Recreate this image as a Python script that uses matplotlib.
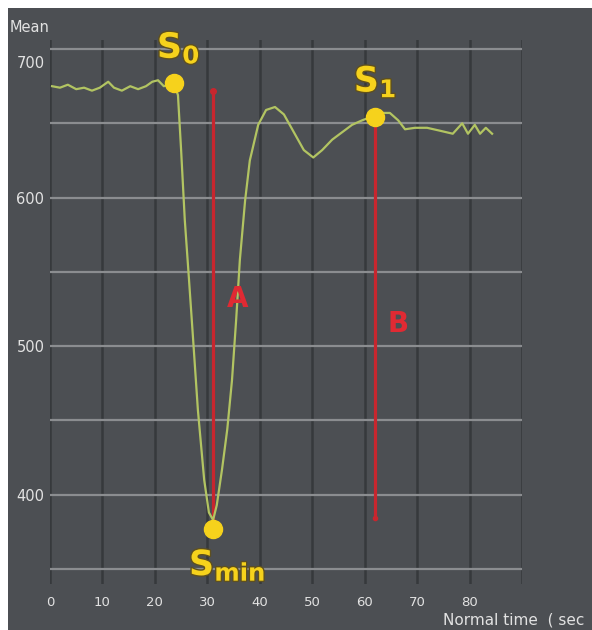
import matplotlib.pyplot as plt
import matplotlib.patheffects as pe
from matplotlib.patches import Rectangle
from matplotlib.transforms import ScaledTranslation

# signal curve
time = [0.4, 1.9, 3.4, 5.0, 6.5, 8.0, 9.5, 11.1, 12.2, 13.7, 15.3, 16.8, 18.3, 19.5,
        20.6, 21.7, 22.9, 23.6, 24.4, 25.0, 25.7, 26.5, 27.3, 28.2, 29.4, 30.3, 31.1,
        31.8, 32.8, 33.8, 34.7, 35.5, 36.2, 37.2, 38.1, 39.7, 41.2, 42.9, 44.6, 46.5,
        48.4, 50.2, 51.9, 53.8, 55.7, 57.6, 59.5, 61.0, 62.0, 63.3, 64.8, 66.4, 67.7,
        69.6, 71.9, 74.4, 76.8, 78.6, 79.7, 81.0, 82.0, 83.1, 84.3]
mean = [675, 674, 676, 673, 674, 672, 674, 678, 674, 672, 675, 673, 675, 678,
        679, 675, 676, 677, 669, 632, 585, 545, 504, 457, 410, 388, 383,
        393, 417, 444, 477, 518, 558, 598, 625, 649, 659, 661, 656, 644,
        632, 627, 632, 639, 644, 649, 652, 654, 654, 657, 657, 652, 646,
        647, 647, 645, 643, 650, 643, 649, 643, 647, 643]

# key points
pt_t = [23.6, 31.1, 62.0]
pt_v = [677, 377, 654]
pt_names = [r'$\mathbf{S_0}$', r'$\mathbf{S_{min}}$', r'$\mathbf{S_1}$']

# arrows A and B (time, top, bottom)
arrow_t = [31.1, 62.0]
arrow_top = [672, 654]
arrow_bot = [377, 384]

bg = '#4c4f53'
yellow = '#f6d21c'
red = '#c8262e'

fig = plt.figure(figsize=(5.92, 6.30), dpi=100, facecolor='white')
fig.patches.append(Rectangle((8 / 592, 0), 1, 1 - 8 / 630, transform=fig.transFigure,
                             facecolor=bg, edgecolor='none', zorder=-10))

ax = fig.add_axes([50 / 592, 46 / 630, 472 / 592, 544 / 630])
ax.set_facecolor(bg)
ax.set_xlim(0, 90)
ax.set_ylim(339.9, 706.1)
for s in ax.spines.values():
    s.set_visible(False)

# grid: dark verticals, light horizontals
for t in range(0, 91, 10):
    ax.axvline(t, color='#36393c', lw=1.8, zorder=1)
for v in range(350, 701, 50):
    ax.axhline(v, color='#8b8d90', lw=1.6, zorder=2)

ax.set_xticks(range(0, 81, 10))
ax.set_yticks([400, 500, 600, 700])
ax.tick_params(length=0, colors='#e2e2e2', labelsize=10.5)
ax.tick_params(axis='x', pad=9, labelsize=9.5)
ax.tick_params(axis='y', pad=4)
lab700 = ax.get_yticklabels()[-1]
lab700.set_transform(lab700.get_transform() + ScaledTranslation(0, -0.13, fig.dpi_scale_trans))

# curve
ax.plot(time, mean, color='#b2c462', lw=1.6, zorder=4)

# red lines A, B
for t, top, bot in zip(arrow_t, arrow_top, arrow_bot):
    ax.plot([t, t], [top, bot], color=red, lw=2.3, zorder=3)
ax.plot(arrow_t[0], arrow_top[0], 'o', color=red, ms=4, zorder=3)
ax.plot(arrow_t[1], arrow_bot[1], 'o', color=red, ms=3, zorder=3)

ax.text(35.7, 532, 'A', color='#e02a33', fontsize=20, fontweight='bold',
        ha='center', va='center', zorder=6)
ax.text(66.4, 515, 'B', color='#e02a33', fontsize=20, fontweight='bold',
        ha='center', va='center', zorder=6)

# key points
ax.plot(pt_t, pt_v, 'o', color=yellow, ms=13, zorder=5)
outline = [pe.withStroke(linewidth=2, foreground='#5e5020')]
ax.text(24.5, 700.5, pt_names[0], color=yellow, fontsize=25, ha='center', va='center',
        path_effects=outline, zorder=6, clip_on=False)
ax.text(33.8, 352.5, pt_names[1], color=yellow, fontsize=25, ha='center', va='center',
        path_effects=outline, zorder=6, clip_on=False)
ax.text(62.0, 678, pt_names[2], color=yellow, fontsize=25, ha='center', va='center',
        path_effects=outline, zorder=6, clip_on=False)

fig.text(10 / 592, 1 - 27 / 630, 'Mean', color='#e2e2e2', fontsize=10.5,
         ha='left', va='center')
fig.text(443 / 592, 10 / 630, 'Normal time  ( sec', color='#e2e2e2', fontsize=11,
         ha='left', va='center')

fig.savefig('out.png', dpi=100, facecolor=fig.get_facecolor())
